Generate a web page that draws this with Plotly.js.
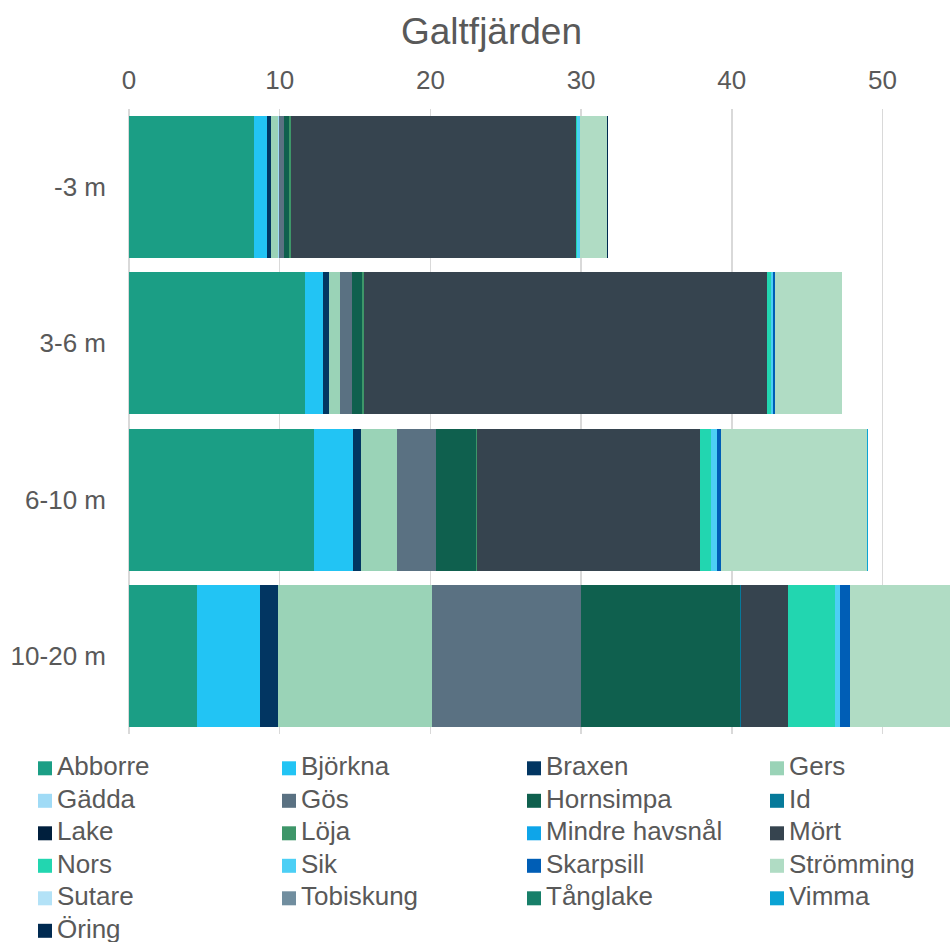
<!DOCTYPE html>
<html>
<head>
<meta charset="utf-8">
<script src="https://cdn.plot.ly/plotly-3.0.1.min.js"></script>
<style>
  html, body { margin: 0; padding: 0; background: #ffffff; overflow: hidden; }
  #chart { width: 950px; height: 942px; }
</style>
</head>
<body>
<div id="chart"></div>
<script>
// Depth zones (y categories), top to bottom
const depths = ['-3 m', '3-6 m', '6-10 m', '10-20 m'];

// Species, in stacking and legend order
const species = [
  'Abborre', 'Björkna', 'Braxen', 'Gers',
  'Gädda', 'Gös', 'Hornsimpa', 'Id',
  'Lake', 'Löja', 'Mindre havsnål', 'Mört',
  'Nors', 'Sik', 'Skarpsill', 'Strömming',
  'Sutare', 'Tobiskung', 'Tånglake', 'Vimma',
  'Öring'
];

// Catch per species, one value per depth zone (-3 m, 3-6 m, 6-10 m, 10-20 m)
const abborre       = [8.29, 11.68, 12.28, 4.51];
const bjorkna       = [0.89, 1.19, 2.57, 4.18];
const braxen        = [0.27, 0.40, 0.53, 1.19];
const gers          = [0.42, 0.73, 2.43, 10.20];
const gadda         = [0.07, 0, 0, 0];
const gos           = [0.36, 0.78, 2.55, 9.91];
const hornsimpa     = [0.31, 0.68, 2.67, 10.57];
const id            = [0, 0, 0, 0.05];
const lake          = [0, 0, 0, 0];
const loja          = [0.16, 0.13, 0.05, 0];
const mindreHavsnal = [0, 0, 0, 0];
const mort          = [18.87, 26.74, 14.83, 3.12];
const nors          = [0.09, 0.27, 0.73, 3.14];
const sik           = [0.18, 0.11, 0.38, 0.31];
const skarpsill     = [0, 0.15, 0.27, 0.66];
const stromming     = [1.81, 4.42, 9.70, 8.20];
const sutare        = [0, 0.05, 0, 0];
const tobiskung     = [0, 0, 0, 0];
const tanglake      = [0, 0, 0, 0];
const vimma         = [0, 0, 0.05, 0];
const oring         = [0.05, 0, 0, 0];

const values = [
  abborre, bjorkna, braxen, gers,
  gadda, gos, hornsimpa, id,
  lake, loja, mindreHavsnal, mort,
  nors, sik, skarpsill, stromming,
  sutare, tobiskung, tanglake, vimma,
  oring
];

const colors = [
  '#1B9E85', '#22C4F4', '#023662', '#9AD3B7',
  '#A0DBF6', '#5A7182', '#0F604E', '#067A9A',
  '#001F3D', '#3E9669', '#0EA5E9', '#36444F',
  '#22D6B0', '#4CCFF5', '#005EB6', '#B0DCC4',
  '#B3E2F7', '#718E9F', '#177F69', '#0BA3D4',
  '#002A51'
];

const textColor = '#595959';
const fontFamily = 'Liberation Sans, Arial, sans-serif';

const traces = species.map((name, i) => ({
  type: 'bar',
  orientation: 'h',
  name: name,
  y: depths,
  x: values[i],
  marker: { color: colors[i], line: { width: 0 } },
  showlegend: false,
  hoverinfo: 'name+x'
}));

// Page geometry used to place the legend grid below the plot
const W = 950, H = 942;
const M = { l: 129, r: 0, t: 109, b: 208 };
const PW = W - M.l - M.r, PH = H - M.t - M.b;
const px = x => (x - M.l) / PW;
const py = y => (M.t + PH - y) / PH;

// Legend: 4 columns, filled row by row
const colX = [38, 282, 527, 770];
const rowY0 = 768.3, rowStep = 32.5, box = 14;

const shapes = [];
const annotations = [];
species.forEach((name, i) => {
  const c = i % 4, r = Math.floor(i / 4);
  const x = colX[c], y = rowY0 + r * rowStep;
  shapes.push({
    type: 'rect', xref: 'paper', yref: 'paper',
    x0: px(x), x1: px(x + box), y0: py(y + box / 2), y1: py(y - box / 2),
    fillcolor: colors[i], line: { width: 0 }, layer: 'above'
  });
  annotations.push({
    xref: 'paper', yref: 'paper', x: px(x + box + 4), y: py(y - 2),
    xanchor: 'left', yanchor: 'middle', showarrow: false,
    borderpad: 0,
    text: name, font: { family: fontFamily, size: 26, color: textColor }
  });
});

const layout = {
  width: W, height: H,
  margin: M,
  paper_bgcolor: '#ffffff', plot_bgcolor: '#ffffff',
  font: { family: fontFamily, size: 26, color: textColor },
  title: {
    text: 'Galtfjärden',
    font: { family: fontFamily, size: 37, color: textColor },
    x: 491.5 / W, xref: 'container', xanchor: 'center',
    y: 1 - 31 / H, yref: 'container', yanchor: 'middle'
  },
  barmode: 'stack',
  bargap: 0.0915,
  xaxis: {
    side: 'top',
    range: [0, PW / 15.07],
    tickvals: [0, 10, 20, 30, 40, 50],
    ticks: '',
    ticklabelstandoff: 14,
    showgrid: true, gridcolor: '#D9D9D9', gridwidth: 1.5,
    zeroline: true, zerolinecolor: '#D9D9D9', zerolinewidth: 1.5,
    showline: false,
    tickfont: { family: fontFamily, size: 26, color: textColor },
    fixedrange: true
  },
  yaxis: {
    type: 'category',
    categoryorder: 'array', categoryarray: depths,
    autorange: 'reversed',
    ticks: '',
    ticklabelstandoff: 22,
    showgrid: false, zeroline: false, showline: false,
    tickfont: { family: fontFamily, size: 26, color: textColor },
    fixedrange: true
  },
  shapes: shapes,
  annotations: annotations,
  showlegend: false
};

Plotly.newPlot('chart', traces, layout, { displayModeBar: false, staticPlot: true });
</script>
</body>
</html>
